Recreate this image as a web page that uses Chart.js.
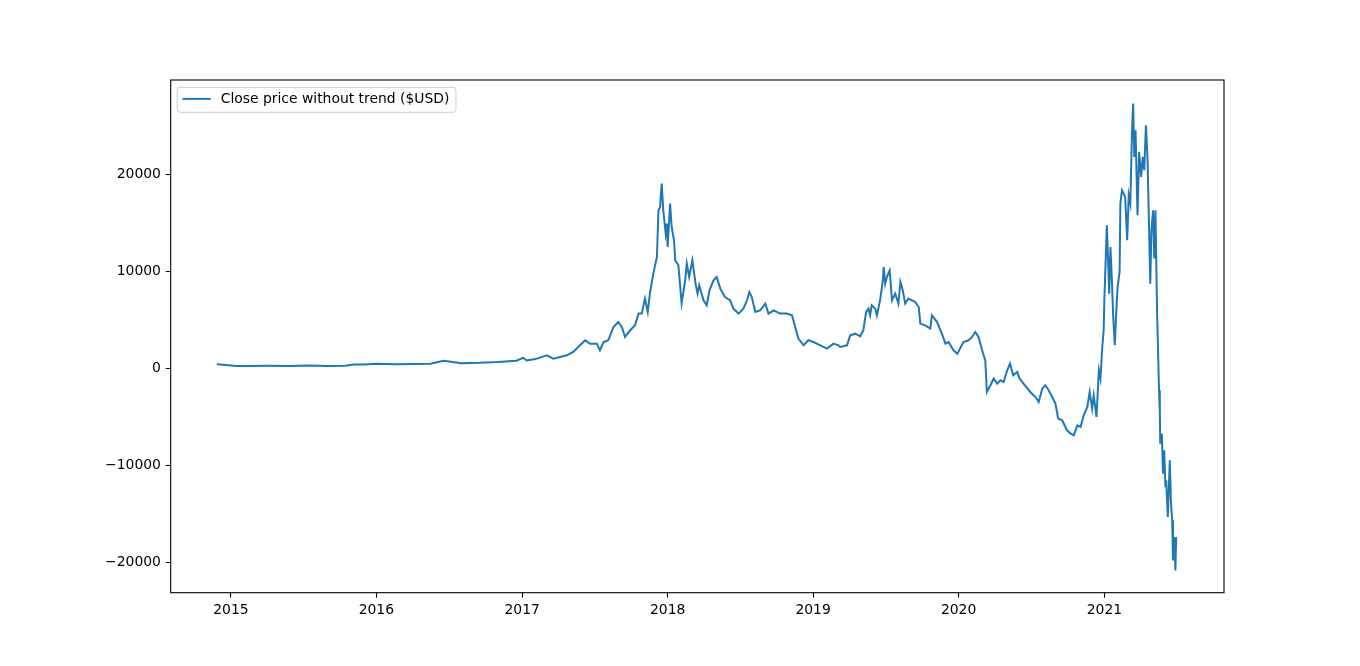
<!DOCTYPE html>
<html>
<head>
<meta charset="utf-8">
<title>Close price without trend</title>
<script src="https://cdn.jsdelivr.net/npm/chart.js@4.4.0/dist/chart.umd.min.js"></script>
<style>
html, body { margin: 0; padding: 0; background: #fff; }
</style>
</head>
<body>
<canvas id="priceChart" width="1360" height="666"></canvas>
<script>
// values (detrended close, $USD)
var dates = [
	"2014-11-27","2014-12-20","2015-01-14","2015-02-15","2015-04-01","2015-06-01","2015-07-15","2015-09-01","2015-10-15","2015-11-06",
	"2015-12-02","2016-01-02","2016-02-16","2016-04-02","2016-05-16","2016-06-18","2016-07-02","2016-08-01","2016-09-16","2016-11-02",
	"2016-12-17","2016-12-30","2017-01-03","2017-01-12","2017-02-03","2017-03-04","2017-03-20","2017-04-23","2017-05-09","2017-05-26",
	"2017-06-08","2017-06-20","2017-07-07","2017-07-15","2017-07-24","2017-08-05","2017-08-18","2017-08-30","2017-09-08","2017-09-16",
	"2017-09-29","2017-10-11","2017-10-20","2017-10-28","2017-11-05","2017-11-12","2017-11-18","2017-11-26","2017-12-05","2017-12-09",
	"2017-12-13","2017-12-17","2017-12-21","2017-12-27","2017-12-30","2018-01-01","2018-01-07","2018-01-11","2018-01-17","2018-01-20",
	"2018-01-28","2018-02-05","2018-02-14","2018-02-18","2018-02-24","2018-03-04","2018-03-12","2018-03-17","2018-03-21","2018-04-01",
	"2018-04-09","2018-04-16","2018-04-26","2018-05-04","2018-05-13","2018-05-25","2018-06-07","2018-06-15","2018-06-28","2018-07-10",
	"2018-07-19","2018-07-25","2018-07-31","2018-08-09","2018-08-21","2018-09-03","2018-09-11","2018-09-24","2018-10-10","2018-10-27",
	"2018-11-09","2018-11-17","2018-11-25","2018-12-08","2018-12-20","2019-01-02","2019-01-19","2019-02-05","2019-02-21","2019-03-06",
	"2019-03-10","2019-03-27","2019-04-04","2019-04-17","2019-04-29","2019-05-07","2019-05-14","2019-05-20","2019-05-24","2019-05-28",
	"2019-06-06","2019-06-10","2019-06-18","2019-06-25","2019-06-27","2019-07-01","2019-07-05","2019-07-12","2019-07-18","2019-07-26",
	"2019-08-03","2019-08-08","2019-08-14","2019-08-20","2019-08-28","2019-09-06","2019-09-14","2019-09-23","2019-09-27","2019-10-09",
	"2019-10-22","2019-10-26","2019-11-08","2019-11-20","2019-11-29","2019-12-07","2019-12-19","2019-12-29","2020-01-13","2020-01-26",
	"2020-02-04","2020-02-12","2020-02-20","2020-02-29","2020-03-08","2020-03-12","2020-03-21","2020-03-29","2020-04-07","2020-04-15",
	"2020-04-23","2020-05-02","2020-05-09","2020-05-17","2020-05-27","2020-06-02","2020-06-12","2020-06-29","2020-07-12","2020-07-20",
	"2020-07-29","2020-08-06","2020-08-14","2020-08-23","2020-08-31","2020-09-07","2020-09-17","2020-09-29","2020-10-08","2020-10-16",
	"2020-10-25","2020-11-02","2020-11-10","2020-11-19","2020-11-25","2020-12-01","2020-12-05","2020-12-12","2020-12-18","2020-12-22",
	"2020-12-26","2020-12-30","2021-01-01","2021-01-07","2021-01-13","2021-01-16","2021-01-20","2021-01-23","2021-01-27","2021-01-30",
	"2021-02-03","2021-02-08","2021-02-10","2021-02-14","2021-02-22","2021-02-27","2021-03-03","2021-03-07","2021-03-11","2021-03-14",
	"2021-03-17","2021-03-20","2021-03-25","2021-03-29","2021-04-03","2021-04-07","2021-04-11","2021-04-15","2021-04-19","2021-04-22",
	"2021-04-26","2021-04-29","2021-05-03","2021-05-06","2021-05-09","2021-05-13","2021-05-18","2021-05-20","2021-05-21","2021-05-25",
	"2021-05-28","2021-05-31","2021-06-03","2021-06-05","2021-06-09","2021-06-14","2021-06-17","2021-06-20","2021-06-22","2021-06-26",
	"2021-06-28","2021-06-30"
];
var closeNoTrend = [
	420, 330, 230, 250, 260, 240, 280, 240, 260, 400,
	380, 460, 420, 440, 480, 780, 700, 520, 560, 650,
	780, 1000, 1100, 800, 950, 1340, 1000, 1340, 1680, 2370,
	2890, 2540, 2540, 1860, 2710, 2890, 4260, 4770, 4260, 3230,
	3920, 4430, 5640, 5640, 7190, 5810, 7870, 9760, 11480, 16290,
	16630, 19040, 16290, 13890, 14920, 12510, 16980, 14570, 13200, 11140,
	10620, 6700, 9070, 10790, 9410, 11140, 8730, 7700, 8560, 7010,
	6500, 8040, 9070, 9410, 8210, 7350, 7010, 6150, 5640, 6150,
	7010, 7870, 7350, 5810, 5980, 6670, 5640, 5980, 5640, 5640,
	5460, 4260, 3060, 2370, 2890, 2710, 2370, 2030, 2540, 2370,
	2200, 2370, 3400, 3570, 3300, 3920, 5810, 6150, 5460, 6500,
	6150, 5460, 7010, 9070, 10440, 8730, 9410, 10100, 7010, 7700,
	6670, 8900, 8040, 6670, 7190, 7010, 6840, 6320, 4610, 4430,
	4090, 5460, 4770, 3570, 2540, 2710, 1860, 1510, 2710, 2890,
	3230, 3740, 3230, 1860, 820, -2440, -1750, -1060, -1580, -1240,
	-1410, -200, 480, -720, -380, -1060, -1580, -2440, -2960, -3470,
	-2090, -1750, -2270, -2960, -3640, -5190, -5360, -6390, -6730, -6910,
	-5880, -6050, -4850, -3990, -2440, -4150, -2780, -5020, -200, -1060,
	1860, 3920, 7350, 14740, 7700, 12510, 8730, 5290, 2370, 5290,
	8380, 9930, 16980, 18350, 17660, 13200, 17840, 16980, 24200, 27290,
	21790, 24540, 15770, 22310, 19730, 21790, 20410, 25050, 21790, 16290,
	8730, 14230, 16290, 11310, 16290, 5980, -2270, -4670, -7770, -6730,
	-10860, -8450, -12240, -11550, -15330, -9490, -13950, -15670, -19800, -17390,
	-20830, -17390
];
var yearTicks = [2015, 2016, 2017, 2018, 2019, 2020, 2021];
var valueTicks = [-20000, -10000, 0, 10000, 20000];
var seriesLabel = "Close price without trend ($USD)";

var lineColor = "#1f77b4";
var tickFont = { family: "'DejaVu Sans', sans-serif", size: 13.9 };

function dayStamp(s) {
	var p = s.split("-");
	return Date.UTC(+p[0], +p[1] - 1, +p[2]);
}

var points = [];
dates.forEach(function (d, i) {
	points.push({ x: dayStamp(d), y: closeNoTrend[i] });
});

// box round the plot and legend in the upper left, like the original figure
var frameAndLegend = {
	id: "frameAndLegend",
	afterDraw: function (chart) {
		var ctx = chart.ctx, a = chart.chartArea;
		ctx.save();
		ctx.strokeStyle = "#000";
		ctx.lineWidth = 1.1;
		ctx.strokeRect(a.left, a.top, a.right - a.left, a.bottom - a.top);

		var bx = a.left + 6.6, by = a.top + 7.3, bw = 278.7, bh = 25;
		ctx.beginPath();
		ctx.roundRect(bx, by, bw, bh, 3);
		ctx.fillStyle = "rgba(255,255,255,0.8)";
		ctx.fill();
		ctx.strokeStyle = "#cccccc";
		ctx.lineWidth = 1;
		ctx.stroke();

		ctx.beginPath();
		ctx.moveTo(bx + 5.2, by + 11.6);
		ctx.lineTo(bx + 33.4, by + 11.6);
		ctx.strokeStyle = lineColor;
		ctx.lineWidth = 2;
		ctx.stroke();

		ctx.fillStyle = "#000";
		ctx.font = "13.9px 'DejaVu Sans', sans-serif";
		ctx.textBaseline = "middle";
		ctx.textAlign = "left";
		ctx.fillText(seriesLabel, bx + 43.4, by + 12.3);
		ctx.restore();
	}
};

var priceChart = new Chart(document.getElementById("priceChart").getContext("2d"), {
	type: "line",
	data: {
		datasets: [{
			label: seriesLabel,
			data: points,
			borderColor: lineColor,
			backgroundColor: lineColor,
			borderWidth: 2,
			pointRadius: 0,
			fill: false,
			tension: 0
		}]
	},
	options: {
		responsive: false,
		animation: false,
		layout: { padding: { left: 0, right: 136, top: 80, bottom: 0 } },
		plugins: {
			legend: { display: false },
			tooltip: { enabled: false }
		},
		scales: {
			x: {
				type: "linear",
				min: Date.UTC(2014, 7, 3),
				max: Date.UTC(2021, 9, 28),
				afterBuildTicks: function (scale) {
					scale.ticks = yearTicks.map(function (y) { return { value: Date.UTC(y, 0, 1) }; });
				},
				afterFit: function (scale) { scale.height = 73.3; },
				ticks: {
					autoSkip: false,
					maxRotation: 0,
					color: "#000",
					padding: 4.9,
					font: tickFont,
					callback: function (v) { return String(new Date(v).getUTCFullYear()); }
				},
				grid: { display: true, drawOnChartArea: false, drawTicks: true, tickLength: 4.9, tickColor: "#000", tickWidth: 1.1 },
				border: { display: false }
			},
			y: {
				min: -23134,
				max: 29722,
				afterBuildTicks: function (scale) {
					scale.ticks = valueTicks.map(function (v) { return { value: v }; });
				},
				afterFit: function (scale) { scale.width = 170.7; },
				ticks: {
					color: "#000",
					padding: 4.9,
					font: tickFont,
					callback: function (v) { return v < 0 ? "\u2212" + Math.abs(v) : String(v); }
				},
				grid: { display: true, drawOnChartArea: false, drawTicks: true, tickLength: 4.9, tickColor: "#000", tickWidth: 1.1 },
				border: { display: false }
			}
		}
	},
	plugins: [frameAndLegend]
});
</script>
</body>
</html>
